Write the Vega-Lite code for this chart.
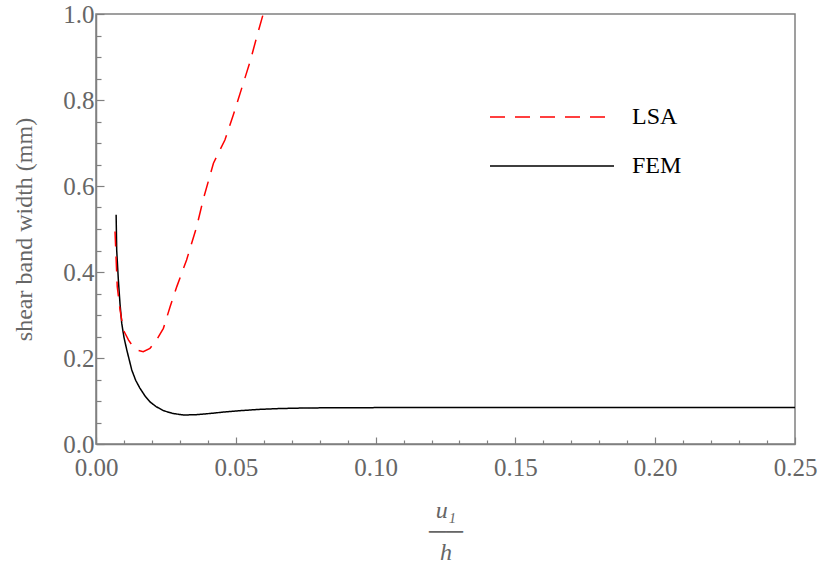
{
  "$schema": "https://vega.github.io/schema/vega-lite/v6.json",
  "width": 699,
  "height": 430,
  "autosize": "none",
  "padding": {"left": 96, "top": 14, "right": 24, "bottom": 124},
  "background": "white",
  "config": {
    "font": "Liberation Serif",
    "view": {"stroke": "#808080", "strokeWidth": 1.5},
    "axis": {
      "grid": false,
      "domainColor": "#808080",
      "domainWidth": 1.5,
      "tickColor": "#808080",
      "tickWidth": 1.2,
      "labelFont": "Liberation Serif",
      "labelFontSize": 25,
      "labelColor": "#666666",
      "titleFont": "Liberation Serif",
      "titleFontWeight": "normal",
      "titleColor": "#666666"
    },
    "legend": {
      "orient": "none",
      "legendX": 442.5,
      "legendY": 89.5,
      "symbolType": "M-5,0H5",
      "symbolSize": 615,
      "symbolStrokeWidth": 1.5,
      "labelFont": "Liberation Serif",
      "labelFontSize": 24,
      "labelColor": "black",
      "labelOffset": 66.5,
      "rowPadding": 23
    }
  },
  "data": {
    "values": [
      {"series": "FEM", "x": 0.0072, "y": 0.533},
      {"series": "FEM", "x": 0.0074, "y": 0.451},
      {"series": "FEM", "x": 0.0080, "y": 0.381},
      {"series": "FEM", "x": 0.0086, "y": 0.325},
      {"series": "FEM", "x": 0.0092, "y": 0.281},
      {"series": "FEM", "x": 0.0100, "y": 0.248},
      {"series": "FEM", "x": 0.0110, "y": 0.219},
      {"series": "FEM", "x": 0.0128, "y": 0.172},
      {"series": "FEM", "x": 0.0142, "y": 0.148},
      {"series": "FEM", "x": 0.0157, "y": 0.130},
      {"series": "FEM", "x": 0.0175, "y": 0.112},
      {"series": "FEM", "x": 0.0193, "y": 0.098},
      {"series": "FEM", "x": 0.0215, "y": 0.087},
      {"series": "FEM", "x": 0.0241, "y": 0.0775},
      {"series": "FEM", "x": 0.0275, "y": 0.071},
      {"series": "FEM", "x": 0.0312, "y": 0.0675},
      {"series": "FEM", "x": 0.0355, "y": 0.068},
      {"series": "FEM", "x": 0.0408, "y": 0.071},
      {"series": "FEM", "x": 0.0460, "y": 0.0745},
      {"series": "FEM", "x": 0.0515, "y": 0.0775},
      {"series": "FEM", "x": 0.0587, "y": 0.0806},
      {"series": "FEM", "x": 0.0660, "y": 0.0825},
      {"series": "FEM", "x": 0.0750, "y": 0.0838},
      {"series": "FEM", "x": 0.0900, "y": 0.0845},
      {"series": "FEM", "x": 0.1200, "y": 0.0848},
      {"series": "FEM", "x": 0.1800, "y": 0.0848},
      {"series": "FEM", "x": 0.2500, "y": 0.0848},
      {"series": "LSA", "x": 0.0068, "y": 0.494},
      {"series": "LSA", "x": 0.0072, "y": 0.430},
      {"series": "LSA", "x": 0.0076, "y": 0.366},
      {"series": "LSA", "x": 0.0086, "y": 0.312},
      {"series": "LSA", "x": 0.0098, "y": 0.265},
      {"series": "LSA", "x": 0.0116, "y": 0.242},
      {"series": "LSA", "x": 0.0133, "y": 0.226},
      {"series": "LSA", "x": 0.0150, "y": 0.218},
      {"series": "LSA", "x": 0.0169, "y": 0.2147},
      {"series": "LSA", "x": 0.0193, "y": 0.2225},
      {"series": "LSA", "x": 0.0217, "y": 0.242},
      {"series": "LSA", "x": 0.0241, "y": 0.269},
      {"series": "LSA", "x": 0.0265, "y": 0.319},
      {"series": "LSA", "x": 0.0289, "y": 0.366},
      {"series": "LSA", "x": 0.0324, "y": 0.428},
      {"series": "LSA", "x": 0.0360, "y": 0.505},
      {"series": "LSA", "x": 0.0384, "y": 0.570},
      {"series": "LSA", "x": 0.0420, "y": 0.653},
      {"series": "LSA", "x": 0.0461, "y": 0.707},
      {"series": "LSA", "x": 0.0491, "y": 0.765},
      {"series": "LSA", "x": 0.0521, "y": 0.827},
      {"series": "LSA", "x": 0.0551, "y": 0.889},
      {"series": "LSA", "x": 0.0575, "y": 0.947},
      {"series": "LSA", "x": 0.0598, "y": 1.0}
    ]
  },
  "mark": {"type": "line", "strokeWidth": 1.5, "clip": true},
  "encoding": {
    "x": {
      "field": "x",
      "type": "quantitative",
      "scale": {"domain": [0, 0.25], "nice": false, "zero": false},
      "axis": {
        "values": [0,0.01,0.02,0.03,0.04,0.05,0.06,0.07,0.08,0.09,0.1,0.11,0.12,0.13,0.14,0.15,0.16,0.17,0.18,0.19,0.2,0.21,0.22,0.23,0.24,0.25],
        "labelExpr": "abs(datum.value*20 - round(datum.value*20)) < 1e-6 ? format(datum.value, '.2f') : ''",
        "tickSize": {"condition": {"test": "abs(datum.value*20 - round(datum.value*20)) < 1e-6", "value": -7}, "value": -4},
        "labelPadding": 18,
        "labelFlush": false,
        "labelOverlap": false,
        "title": ["u₁", "──", "h"],
        "titleFontStyle": "italic",
        "titleFontSize": 24,
        "titleLineHeight": 21,
        "titlePadding": 15
      }
    },
    "y": {
      "field": "y",
      "type": "quantitative",
      "scale": {"domain": [0, 1], "nice": false},
      "axis": {
        "values": [0,0.05,0.1,0.15,0.2,0.25,0.3,0.35,0.4,0.45,0.5,0.55,0.6,0.65,0.7,0.75,0.8,0.85,0.9,0.95,1.0],
        "labelExpr": "abs(datum.value*5 - round(datum.value*5)) < 1e-6 ? format(datum.value, '.1f') : ''",
        "tickSize": {"condition": {"test": "abs(datum.value*5 - round(datum.value*5)) < 1e-6", "value": -8}, "value": -5},
        "labelPadding": 10,
        "labelFlush": false,
        "labelOverlap": false,
        "title": "shear band width (mm)",
        "titleFontSize": 24,
        "titlePadding": 26
      }
    },
    "color": {
      "field": "series",
      "type": "nominal",
      "scale": {"domain": ["LSA", "FEM"], "range": ["#ff0000", "#000000"]},
      "legend": {"title": null}
    },
    "strokeDash": {
      "field": "series",
      "type": "nominal",
      "scale": {"domain": ["LSA", "FEM"], "range": [[15, 10], [1, 0]]},
      "legend": {"title": null}
    }
  }
}
